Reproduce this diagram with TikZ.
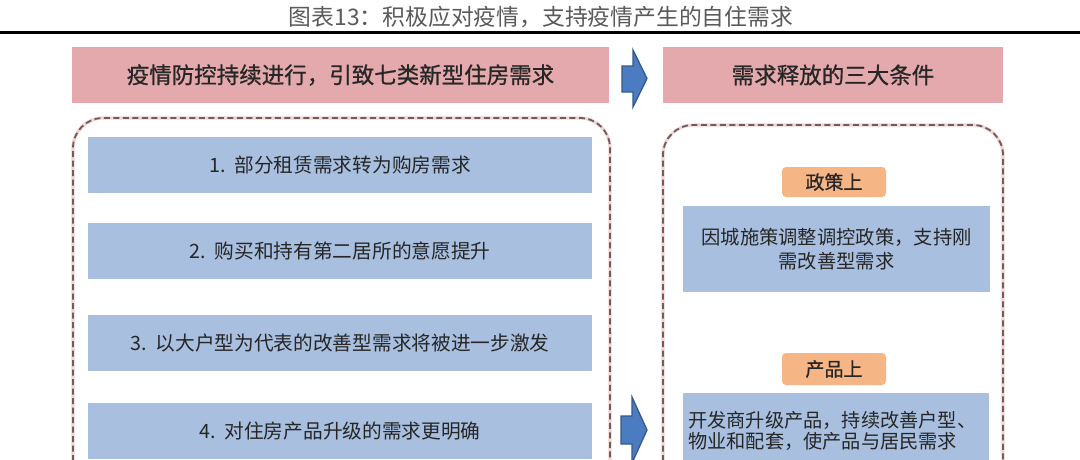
\documentclass[tikz,border=0pt]{standalone}
\usepackage{fontspec}
\setmainfont{Noto Sans CJK SC}
\newfontfamily\hdfont[FakeBold=0.8]{Noto Sans CJK SC}
\definecolor{pinkfill}{HTML}{E3A9AC}
\definecolor{bluefill}{HTML}{A8BFDF}
\definecolor{orangefill}{HTML}{F5B584}
\definecolor{dashcol}{HTML}{6F5C5E}
\definecolor{halocol}{HTML}{F3D3D3}
\definecolor{arrowfill}{HTML}{4B7CC2}
\definecolor{arrowline}{HTML}{34598A}
\definecolor{txt}{HTML}{262626}
\definecolor{titlecol}{HTML}{5A5A5A}
\tikzset{
  headbox/.style={fill=pinkfill, draw=none, inner sep=0pt, text=txt, font=\hdfont\fontsize{22.5}{26}\selectfont},
  itembox/.style={fill=bluefill, draw=none, inner sep=0pt, text=txt, font=\fontsize{19.7}{24}\selectfont},
  tagbox/.style={fill=orangefill, draw=none, rounded corners=4pt, inner sep=0pt, text=txt, font=\hdfont\fontsize{19}{22}\selectfont},
  halo/.style={draw=halocol, line width=3.2pt, rounded corners=30pt},
  dashframe/.style={draw=dashcol, line width=1.8pt, dash pattern=on 6pt off 3.5pt, rounded corners=30pt},
  blockarrow/.style={fill=arrowfill, draw=arrowline, line width=1.3pt, line join=miter}
}
\begin{document}
\begin{tikzpicture}[x=1pt,y=-1pt]
\useasboundingbox (0,0) rectangle (1080,459);
\fill[white] (0,0) rectangle (1080,459);
\clip (0,0) rectangle (1080,459);
% title and rule
\node[text=titlecol, font=\fontsize{22.8}{26}\selectfont, inner sep=0pt] (title) at (541,17) {图表13：积极应对疫情，支持疫情产生的自住需求};
\draw[line width=3.5pt, black] (0,32.5) -- (1080,32.5);
% headers
\node[headbox, minimum width=537pt, minimum height=56pt] (h1) at (340.5,75) {疫情防控持续进行，引致七类新型住房需求};
\node[headbox, minimum width=340pt, minimum height=56pt] (h2) at (833,75) {需求释放的三大条件};
% dashed frames
\draw[halo] (73,480) -- (73,118) -- (610,118) -- (610,480);
\draw[dashframe] (73,480) -- (73,118) -- (610,118) -- (610,480);
\draw[halo] (663,480) -- (663,125) -- (1003,125) -- (1003,480);
\draw[dashframe] (663,480) -- (663,125) -- (1003,125) -- (1003,480);
% left items
\node[itembox, minimum width=504pt, minimum height=56pt] (i1) at (340,165) {1.\ \ 部分租赁需求转为购房需求};
\node[itembox, minimum width=504pt, minimum height=56pt] (i2) at (340,251) {2.\ \ 购买和持有第二居所的意愿提升};
\node[itembox, minimum width=504pt, minimum height=56pt] (i3) at (340,343) {3.\ \ 以大户型为代表的改善型需求将被进一步激发};
\node[itembox, minimum width=504pt, minimum height=56pt] (i4) at (340,431) {4.\ \ 对住房产品升级的需求更明确};
% right tags and boxes
\node[tagbox, minimum width=104pt, minimum height=30pt] (t1) at (834,182) {政策上};
\node[itembox, minimum width=307pt, minimum height=86pt, align=center, font=\fontsize{19.3}{24}\selectfont] (r1) at (836.5,249) {因城施策调整调控政策，支持刚\\需改善型需求};
\node[tagbox, minimum width=104pt, minimum height=32pt] (t2) at (834,369) {产品上};
\node[itembox, minimum width=306pt, minimum height=86pt] (r2) at (836,436) {};
\node[anchor=north west, align=left, inner sep=0pt, text=txt, font=\fontsize{19.2}{21.5}\selectfont] (r2t) at (688,411) {开发商升级产品，持续改善户型、\\物业和配套，使产品与居民需求};
% block arrows
\draw[blockarrow] (622,66) -- (633,66) -- (633,50) -- (647,78.5) -- (633,107) -- (633,92) -- (622,92) -- cycle;
\draw[blockarrow] (621,416) -- (632,416) -- (632,397) -- (647,430) -- (632,463) -- (632,444) -- (621,444) -- cycle;
\end{tikzpicture}
\end{document}
